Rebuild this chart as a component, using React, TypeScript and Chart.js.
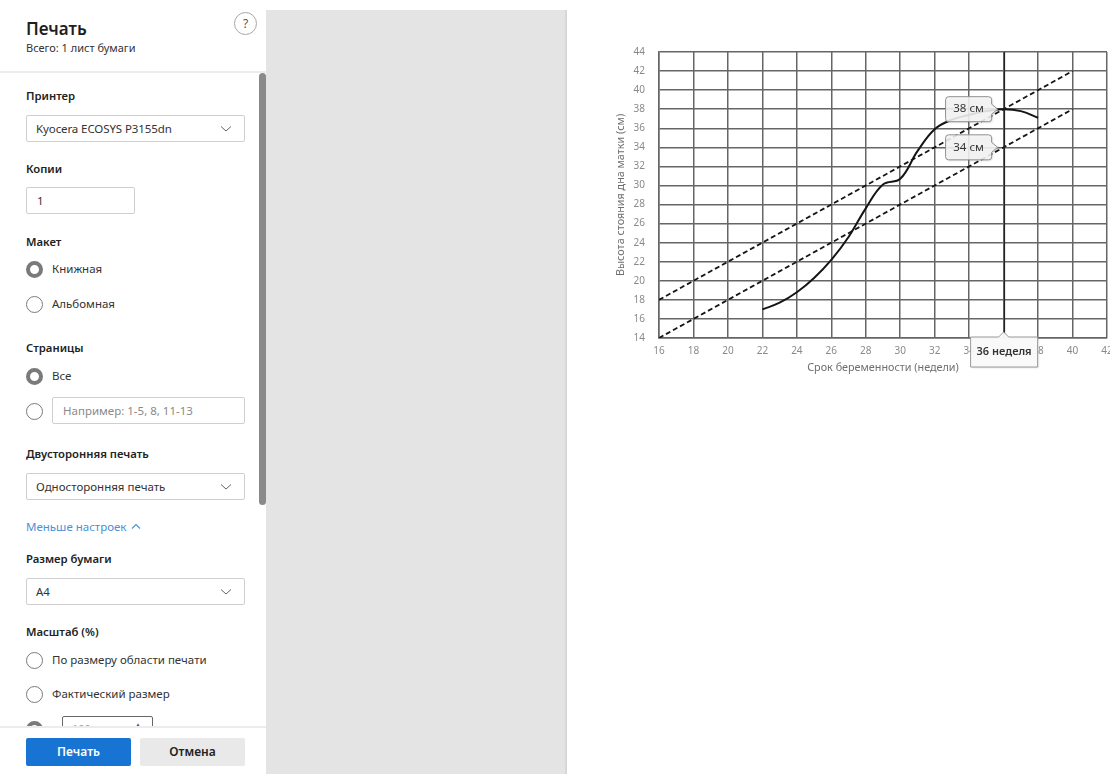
import React, { useEffect, useRef } from "react";
import { Chart, registerables } from "chart.js";

Chart.register(...registerables);

// ---- data ----
const weeks = [22, 23, 24, 25, 26, 27, 28, 29, 30, 31, 32, 33, 34, 35, 36, 37, 38];
const fundalHeight = [17, 17.7, 18.8, 20.3, 22.2, 24.6, 27.6, 30.1, 30.7, 33.6, 35.9, 36.9, 37.4, 37.8, 38, 37.8, 37.1];
const upperWeeks = [16, 40];
const upperValues = [18, 42];
const lowerWeeks = [16, 40];
const lowerValues = [14, 38];
const xMin = 16;
const xMax = 42;
const yMin = 14;
const yMax = 44;
const tickStep = 2;
const markerWeek = 36;
const xTitle = "Срок беременности (недели)";
const yTitle = "Высота стояния дна матки (см)";
const unitCm = "см";
const unitWeek = "неделя";

const FONT = "'Noto Sans', 'Open Sans', sans-serif";

function lineAt(ws: number[], vs: number[], w: number) {
  const t = (w - ws[0]) / (ws[1] - ws[0]);
  return vs[0] + t * (vs[1] - vs[0]);
}

const tooltipPlugin = {
  id: "markerTips",
  afterDraw(chart: any) {
    const ctx = chart.ctx;
    const xs = chart.scales.x;
    const ys = chart.scales.y;
    const area = chart.chartArea;
    const px = xs.getPixelForValue(markerWeek);
    ctx.save();
    // crosshair
    ctx.strokeStyle = "#222";
    ctx.lineWidth = 1.2;
    ctx.beginPath();
    ctx.moveTo(Math.round(px) + 0.5, area.top);
    ctx.lineTo(Math.round(px) + 0.5, area.bottom);
    ctx.stroke();

    const curveVal = fundalHeight[weeks.indexOf(markerWeek)];
    const lowVal = lineAt(lowerWeeks, lowerValues, markerWeek);
    const boxes = [curveVal, lowVal];
    ctx.font = "11.5px " + FONT;
    for (const v of boxes) {
      const py = ys.getPixelForValue(v);
      const w = 46, h = 25;
      const right = px - 12;
      const left = right - w;
      const top = py - h / 2;
      const r = 3;
      ctx.beginPath();
      ctx.moveTo(left + r, top);
      ctx.lineTo(right - r, top);
      ctx.quadraticCurveTo(right, top, right, top + r);
      ctx.lineTo(right, py - 5);
      ctx.lineTo(right + 6, py);
      ctx.lineTo(right, py + 5);
      ctx.lineTo(right, top + h - r);
      ctx.quadraticCurveTo(right, top + h, right - r, top + h);
      ctx.lineTo(left + r, top + h);
      ctx.quadraticCurveTo(left, top + h, left, top + h - r);
      ctx.lineTo(left, top + r);
      ctx.quadraticCurveTo(left, top, left + r, top);
      ctx.closePath();
      ctx.shadowColor = "rgba(0,0,0,0.18)";
      ctx.shadowBlur = 2;
      ctx.shadowOffsetX = 1;
      ctx.shadowOffsetY = 1;
      ctx.fillStyle = "rgba(246,246,246,0.88)";
      ctx.fill();
      ctx.shadowColor = "transparent";
      ctx.strokeStyle = "#8f8f8f";
      ctx.lineWidth = 1;
      ctx.stroke();
      ctx.fillStyle = "#333";
      ctx.textAlign = "center";
      ctx.textBaseline = "middle";
      ctx.fillText(`${Math.round(v)} ${unitCm}`, (left + right) / 2, py);
    }

    // bottom week tooltip
    const tipY = area.bottom - 6;
    const bw = 67, bh = 30;
    const bl = px - 33, bt = tipY + 5;
    ctx.beginPath();
    ctx.moveTo(bl, bt);
    ctx.lineTo(px - 5, bt);
    ctx.lineTo(px, tipY);
    ctx.lineTo(px + 5, bt);
    ctx.lineTo(bl + bw, bt);
    ctx.lineTo(bl + bw, bt + bh);
    ctx.lineTo(bl, bt + bh);
    ctx.closePath();
    ctx.shadowColor = "rgba(0,0,0,0.15)";
    ctx.shadowBlur = 2;
    ctx.shadowOffsetX = 1;
    ctx.shadowOffsetY = 1;
    ctx.fillStyle = "rgba(250,250,250,0.97)";
    ctx.fill();
    ctx.shadowColor = "transparent";
    ctx.strokeStyle = "#9a9a9a";
    ctx.stroke();
    ctx.fillStyle = "#333";
    ctx.font = "600 11px " + FONT;
    ctx.textAlign = "center";
    ctx.textBaseline = "middle";
    ctx.fillText(`${markerWeek} ${unitWeek}`, bl + bw / 2, bt + bh / 2);
    ctx.restore();
  },
};

function ChartCanvas() {
  const ref = useRef<HTMLCanvasElement | null>(null);
  useEffect(() => {
    if (!ref.current) return;
    const gridColor = "#666";
    const chart = new Chart(ref.current, {
      type: "line",
      data: {
        datasets: [
          {
            data: weeks.map((w, i) => ({ x: w, y: fundalHeight[i] })),
            borderColor: "#151515",
            borderWidth: 2,
            pointRadius: 0,
            tension: 0.4,
            fill: false,
          },
          {
            data: upperWeeks.map((w, i) => ({ x: w, y: upperValues[i] })),
            borderColor: "#151515",
            borderWidth: 1.8,
            borderDash: [5, 3],
            pointRadius: 0,
            fill: false,
          },
          {
            data: lowerWeeks.map((w, i) => ({ x: w, y: lowerValues[i] })),
            borderColor: "#151515",
            borderWidth: 1.8,
            borderDash: [5, 3],
            pointRadius: 0,
            fill: false,
          },
        ],
      },
      options: {
        responsive: false,
        animation: false,
        layout: { padding: { top: 0, right: 13, left: 0, bottom: 0 } },
        plugins: { legend: { display: false }, tooltip: { enabled: false } },
        scales: {
          x: {
            type: "linear",
            min: xMin,
            max: xMax,
            afterFit: (s: any) => { s.height = 42; },
            ticks: { stepSize: tickStep, color: "#8a8a8a", font: { size: 10, family: FONT }, padding: 7, maxRotation: 0 },
            grid: { color: gridColor, lineWidth: 1.5, drawTicks: false },
            border: { color: gridColor, width: 1.5 },
            title: { display: true, text: xTitle, color: "#6f6f6f", font: { size: 10.8, family: FONT }, padding: { top: 0, bottom: 6 } },
          },
          y: {
            type: "linear",
            min: yMin,
            max: yMax,
            afterFit: (s: any) => { s.width = 59; },
            ticks: { stepSize: tickStep, color: "#8a8a8a", font: { size: 10, family: FONT }, padding: 14 },
            grid: { color: gridColor, lineWidth: 1.5, drawTicks: false },
            border: { color: gridColor, width: 1.5 },
            title: { display: true, text: yTitle, color: "#6f6f6f", font: { size: 10.8, family: FONT }, padding: { top: 14, bottom: 0 } },
          },
        },
      },
      plugins: [tooltipPlugin],
    } as any);
    return () => chart.destroy();
  }, []);
  return <canvas ref={ref} width={520} height={348} style={{ position: "absolute", left: 600, top: 32 }} />;
}

function T(props: { x: number; cy: number; size?: number; weight?: number; color?: string; ls?: number; children: any }) {
  const h = 20;
  return (
    <div
      style={{
        position: "absolute",
        left: props.x,
        top: props.cy - h / 2,
        height: h,
        lineHeight: h + "px",
        fontSize: props.size ?? 11.5,
        fontWeight: props.weight ?? 400,
        color: props.color ?? "#333",
        letterSpacing: props.ls ?? 0,
        whiteSpace: "nowrap",
        fontFamily: FONT,
      }}
    >
      {props.children}
    </div>
  );
}

function Label({ cy, children }: { cy: number; children: any }) {
  return <T x={26} cy={cy} size={11.3} weight={600} color="#222">{children}</T>;
}

function Radio({ cy, checked }: { cy: number; checked?: boolean }) {
  return (
    <div
      style={{
        position: "absolute",
        left: 26,
        top: cy - 8.5,
        width: 17,
        height: 17,
        boxSizing: "border-box",
        borderRadius: "50%",
        border: checked ? "4.5px solid #7a7a7a" : "1px solid #7a7a7a",
        background: "#fff",
      }}
    />
  );
}

function Box({ top, left = 26, width = 219, height = 27, children }: any) {
  return (
    <div
      style={{
        position: "absolute",
        left,
        top,
        width,
        height,
        boxSizing: "border-box",
        border: "1px solid #cfcfcf",
        borderRadius: 2,
        background: "#fff",
      }}
    >
      {children}
    </div>
  );
}

function Chevron({ x, y }: { x: number; y: number }) {
  return (
    <svg style={{ position: "absolute", left: x, top: y }} width={12} height={8}>
      <polyline points="1,1.5 6,6 11,1.5" fill="none" stroke="#666" strokeWidth={1} />
    </svg>
  );
}

function Select({ top, text, ls }: { top: number; text: string; ls?: number }) {
  return (
    <>
      <Box top={top} />
      <T x={36} cy={top + 13.5} size={11.5} ls={ls}>{text}</T>
      <Chevron x={220} y={top + 10} />
    </>
  );
}

function SidePanel() {
  return (
    <div style={{ position: "absolute", left: 0, top: 0, width: 266, height: 774, background: "#fff", overflow: "hidden" }}>
      <T x={26} cy={29} size={17} weight={600} color="#1f1f1f">Печать</T>
      <T x={26} cy={48} size={11} color="#333">Всего: 1 лист бумаги</T>
      <div
        style={{
          position: "absolute", left: 234, top: 12, width: 23, height: 23, boxSizing: "border-box",
          border: "1px solid #a8a8a8", borderRadius: "50%", textAlign: "center", lineHeight: "21px",
          fontSize: 12, color: "#555", fontFamily: FONT,
        }}
      >?</div>
      <div style={{ position: "absolute", left: 0, top: 71, width: 266, height: 2, background: "#ececec" }} />
      <div style={{ position: "absolute", left: 259, top: 73, width: 7, height: 432, background: "#8a8a8a", borderRadius: 4 }} />

      <div style={{ position: "absolute", left: 0, top: 73, width: 256, height: 653, overflow: "hidden" }}>
        <div style={{ position: "absolute", left: 0, top: -73, width: 256, height: 900 }}>
          <Label cy={96}>Принтер</Label>
          <Select top={115} text="Kyocera ECOSYS P3155dn" ls={-0.1} />
          <Label cy={169}>Копии</Label>
          <Box top={187} width={109} />
          <T x={37} cy={201}>1</T>
          <Label cy={242}>Макет</Label>
          <Radio cy={269} checked />
          <T x={52} cy={269}>Книжная</T>
          <Radio cy={304} />
          <T x={52} cy={304}>Альбомная</T>
          <Label cy={348}>Страницы</Label>
          <Radio cy={376} checked />
          <T x={52} cy={376}>Все</T>
          <Radio cy={411} />
          <Box top={397} left={52} width={193} />
          <T x={63} cy={411} color="#8a8a8a">Например: 1-5, 8, 11-13</T>
          <Label cy={454}>Двусторонняя печать</Label>
          <Select top={473} text="Односторонняя печать" />
          <T x={26} cy={527} color="#4a90d9">Меньше настроек</T>
          <svg style={{ position: "absolute", left: 131, top: 523 }} width={10} height={7}>
            <polyline points="1,5.5 5,1.5 9,5.5" fill="none" stroke="#4a90d9" strokeWidth={1.1} />
          </svg>
          <Label cy={559}>Размер бумаги</Label>
          <Select top={578} text="A4" />
          <Label cy={632}>Масштаб (%)</Label>
          <Radio cy={660} />
          <T x={52} cy={660}>По размеру области печати</T>
          <Radio cy={694} />
          <T x={52} cy={694}>Фактический размер</T>
          <Radio cy={729} checked />
          <div style={{ position: "absolute", left: 62, top: 716, width: 91, height: 24, boxSizing: "border-box", border: "1.5px solid #666", borderRadius: 2 }} />
          <T x={72} cy={729} size={11} color="#999">100</T>
          <T x={134} cy={725} size={8} color="#555">▲</T>
        </div>
      </div>

      <div style={{ position: "absolute", left: 0, top: 726, width: 266, height: 2, background: "#ececec" }} />
      <div
        style={{
          position: "absolute", left: 26, top: 738, width: 105, height: 28, background: "#1874d2", borderRadius: 2,
          color: "#fff", fontWeight: 600, fontSize: 12, textAlign: "center", lineHeight: "28px", fontFamily: FONT,
        }}
      >Печать</div>
      <div
        style={{
          position: "absolute", left: 140, top: 738, width: 105, height: 28, background: "#e9e9e9", borderRadius: 2,
          color: "#222", fontWeight: 600, fontSize: 12, textAlign: "center", lineHeight: "28px", fontFamily: FONT,
        }}
      >Отмена</div>
    </div>
  );
}

export default function App() {
  return (
    <div style={{ position: "fixed", left: 0, top: 0, width: 1110, height: 774, overflow: "hidden", background: "#fff" }}>
      <SidePanel />
      <div style={{ position: "absolute", left: 266, top: 10, width: 301, height: 764, background: "#e4e4e4" }} />
      <div style={{ position: "absolute", left: 564, top: 10, width: 3, height: 764, background: "linear-gradient(to right, #e4e4e4, #d2d2d2)" }} />
      <ChartCanvas />
    </div>
  );
}
